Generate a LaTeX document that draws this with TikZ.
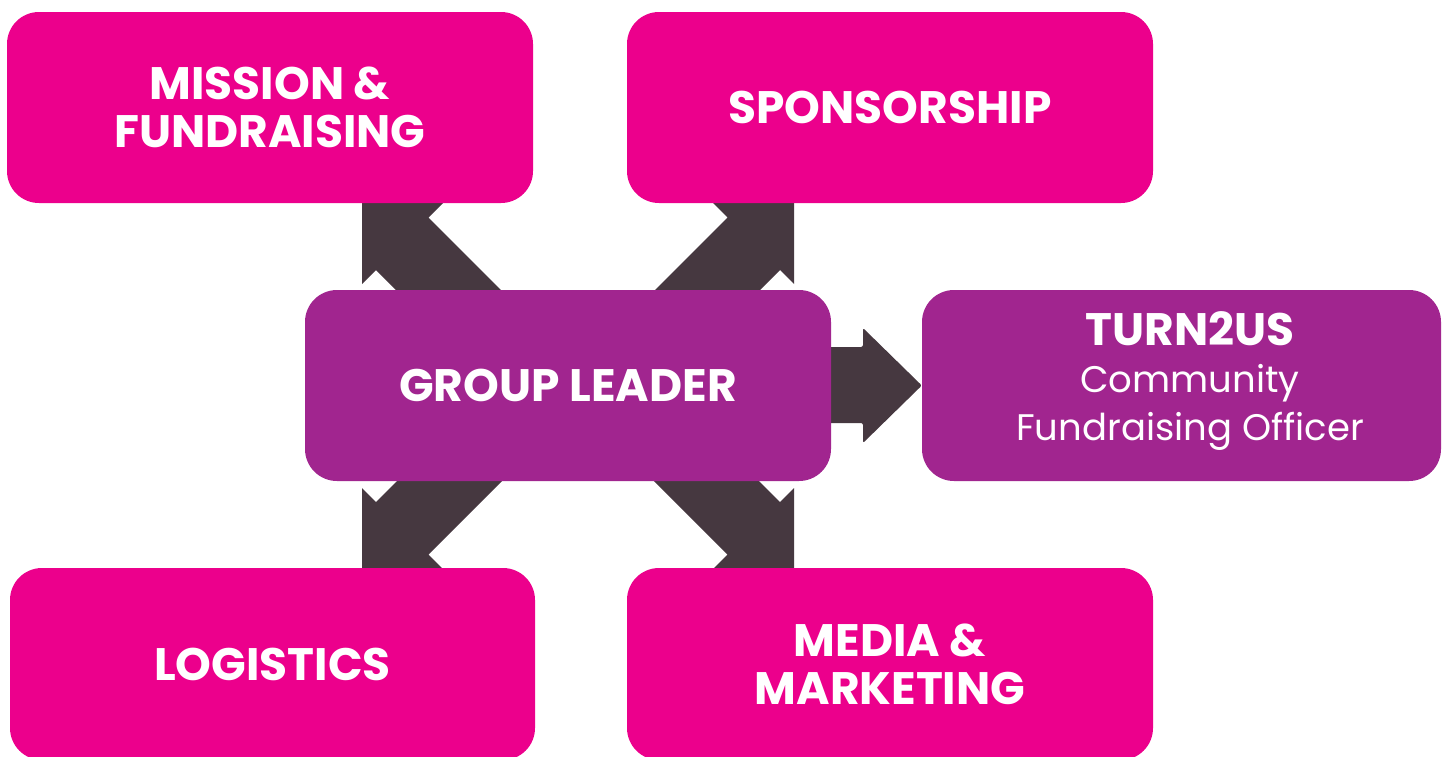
\documentclass[tikz,border=0pt]{standalone}
\usepackage{fontspec}
\setmainfont{Poppins}
\definecolor{rolepink}{HTML}{EC008C}
\definecolor{rolepurple}{HTML}{A1258F}
\definecolor{arrowdark}{HTML}{463840}
\tikzset{
  rolebox/.style={rounded corners=32pt, minimum width=526pt, minimum height=191pt,
    align=center, text=white, inner sep=0pt,
    font=\fontsize{45.5}{48}\selectfont\bfseries},
  pinkrole/.style={rolebox, fill=rolepink},
  purplerole/.style={rolebox, fill=rolepurple},
  roletext/.style={align=center, text=white, inner sep=0pt,
    font=\fontsize{37}{47.5}\selectfont},
  fatarrow/.style={fill=arrowdark, draw=none}
}
\begin{document}
\begin{tikzpicture}[x=1pt,y=-1pt]
\useasboundingbox (0,0) rectangle (1443,756);
\clip (0,0) rectangle (1443,756);
\fill[white] (0,0) rectangle (1443,756);

% diagonal arrows, running behind the central box
\fill[fatarrow] (528.5,317.5) -- (428.5,217.5) -- (443,203) -- (362,203)
  -- (362,284) -- (376,270) -- (476,370) -- cycle;
\fill[fatarrow] (627.5,317.5) -- (727.5,217.5) -- (713,203) -- (794,203)
  -- (794,284) -- (780,270) -- (680,370) -- cycle;
\fill[fatarrow] (528.5,454.5) -- (428.5,554.5) -- (443,569) -- (362,569)
  -- (362,488) -- (376,502) -- (476,402) -- cycle;
\fill[fatarrow] (627.5,454.5) -- (727.5,554.5) -- (713,569) -- (794,569)
  -- (794,488) -- (780,502) -- (680,402) -- cycle;

% boxes
\node[pinkrole] (mission) at (270,107.5) {MISSION \&\\FUNDRAISING};
\node[pinkrole] (sponsor) at (890,107.5) {SPONSORSHIP};
\node[purplerole, minimum width=519pt] (turn2us) at (1181.5,385.5) {};
\node[roletext] (turn2ustext) at (1190,381)
  {{\fontsize{45.5}{47.5}\bfseries\selectfont TURN2US}\\
   Community\\
   Fundraising Officer};
\node[pinkrole, minimum width=525pt, minimum height=192pt] (logistics) at (272.5,664) {LOGISTICS};
\node[pinkrole, minimum height=192pt] (media) at (890,664) {MEDIA \&\\MARKETING};

% arrow from the leader to the officer
\fill[fatarrow, rounded corners=2pt] (820,347) -- (863,347) -- (863,328)
  -- (turn2us.west) -- (863,443) -- (863,423) -- (820,423) -- cycle;
\node[purplerole] (leader) at (568,385.5) {GROUP LEADER};
\end{tikzpicture}
\end{document}
